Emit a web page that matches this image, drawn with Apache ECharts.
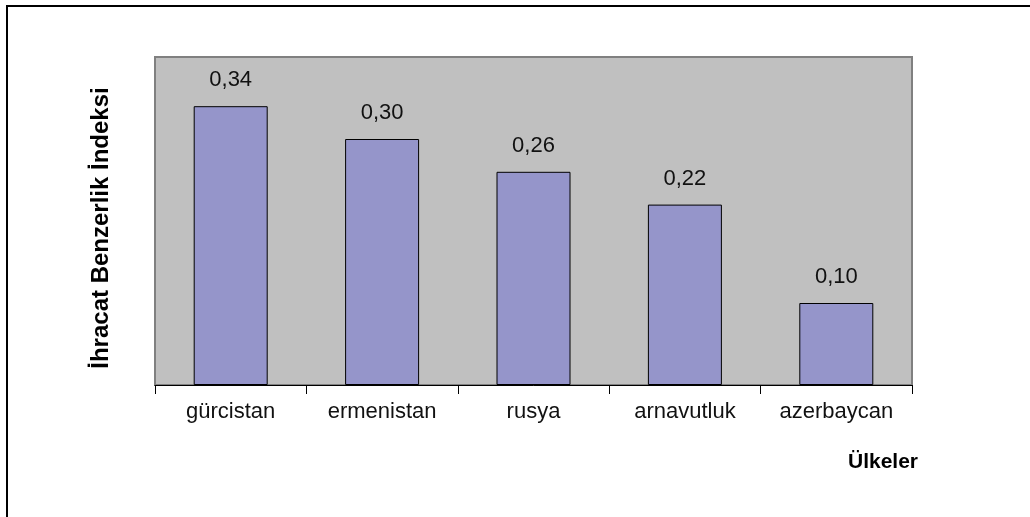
<!DOCTYPE html>
<html><head><meta charset="utf-8">
<script src="https://cdn.jsdelivr.net/npm/echarts@6/dist/echarts.min.js"></script>
<style>html,body{margin:0;padding:0;background:#fff}#c{width:1030px;height:517px}</style>
</head><body><div id="c"></div>
<script>
const categories = ['gürcistan', 'ermenistan', 'rusya', 'arnavutluk', 'azerbaycan'];
const values = [0.34, 0.30, 0.26, 0.22, 0.10];
const yAxisTitle = 'İhracat Benzerlik İndeksi';
const xAxisTitle = 'Ülkeler';

const chart = echarts.init(document.getElementById('c'), null, {renderer: 'canvas'});
const FONT = '"Liberation Sans", Arial, sans-serif';
chart.setOption({
  animation: false,
  backgroundColor: '#fff',
  grid: {left: 155, top: 57, width: 757, height: 328, show: true, backgroundColor: '#C0C0C0', borderColor: '#808080', borderWidth: 2},
  graphic: [
    {type: 'polyline', shape: {points: [[7, 517], [7, 6], [1030, 6]]}, style: {stroke: '#000', lineWidth: 2, fill: null}},
    {type: 'text', left: 848, top: 452, style: {text: xAxisTitle, font: 'bold 21px ' + FONT, fill: '#000'}},
    {type: 'text', x: 101, y: 228, rotation: Math.PI / 2, style: {text: yAxisTitle, font: 'bold 24px ' + FONT, fill: '#000', align: 'center', verticalAlign: 'middle'}}
  ],
  xAxis: {
    type: 'category', data: categories,
    axisLine: {lineStyle: {color: '#000', width: 1}},
    axisTick: {show: true, length: 9, alignWithLabel: false, lineStyle: {color: '#000'}},
    axisLabel: {color: '#111', fontFamily: FONT, fontSize: 22, margin: 16}
  },
  yAxis: {
    type: 'value', min: 0, max: 0.4, interval: 0.1,
    axisLine: {show: false}, axisTick: {show: false}, axisLabel: {show: false}, splitLine: {show: false}
  },
  series: [{
    type: 'bar', data: values, barWidth: 74,
    itemStyle: {color: '#9595CA', borderColor: '#000', borderWidth: 1},
    label: {show: true, position: 'top', distance: 15, color: '#111', fontFamily: FONT, fontSize: 22,
      formatter: p => p.value.toFixed(2).replace('.', ',')}
  }]
});
</script></body></html>
